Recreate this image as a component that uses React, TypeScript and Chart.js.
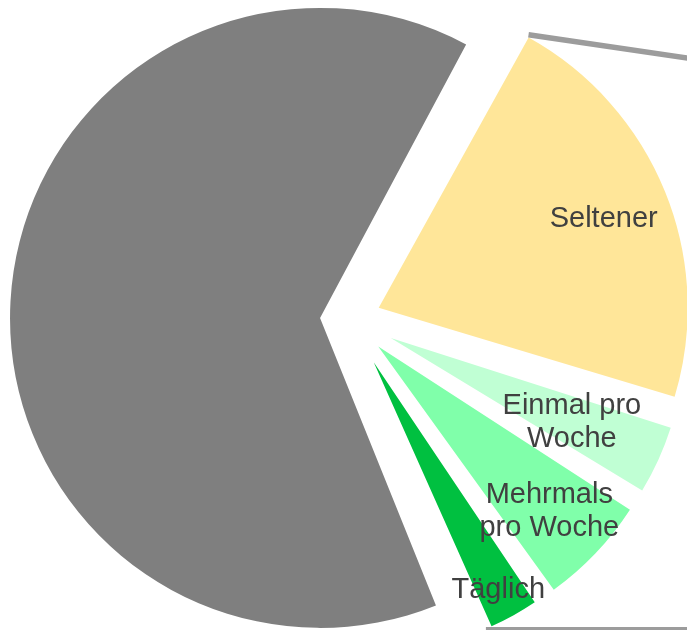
import React, { useEffect, useRef } from 'react';
import { Chart, registerables } from 'chart.js';

Chart.register(...registerables);

// ---- data ----
const CATEGORIES = ['Seltener', 'Einmal pro Woche', 'Mehrmals pro Woche', 'Täglich', 'Nie'];
const LABEL_LINES = [['Seltener'], ['Einmal pro', 'Woche'], ['Mehrmals', 'pro Woche'], ['Täglich'], []];
const VALUES = [21.6, 4.3, 6.3, 3.4, 64.4];

// ---- style ----
const COLORS = ['#FFE699', '#C0FFD4', '#80FFAA', '#00C040', '#7F7F7F'];
const START_ANGLE = 29; // degrees clockwise from 12 o'clock
const BASE_RADIUS = 310;
const SLICE_RADIUS = [309, 294, 300, 289, 310];
const EXPLODE = [31, 44.8, 39, 49, 30]; // px shift along slice middle
const LABEL_POS = [0.786, 0.677, 0.787, 0.89, 0]; // fraction of slice radius
const LABEL_FONT = '29px "Liberation Sans", Arial, sans-serif';
const LABEL_COLOR = '#404040';
const LINE_HEIGHT = 33;
const CONNECTOR_COLOR = '#9C9C9C';
const CONNECTOR_WIDTH = 5.5;
const TOP_SLOPE = 0.1465;
const BOTTOM_SLOPE = 0;

const slicePlugin = {
  id: 'sliceShape',
  afterDatasetUpdate(chart: any, args: any) {
    const meta = args.meta;
    meta.data.forEach((arc: any, i: number) => {
      const shift = EXPLODE[i];
      const fix = 1 - Math.sin(Math.min(Math.PI, arc.circumference || 0));
      arc.outerRadius = SLICE_RADIUS[i] - shift * fix;
    });
  },
  afterDatasetsDraw(chart: any) {
    const ctx: CanvasRenderingContext2D = chart.ctx;
    const arcs = chart.getDatasetMeta(0).data as any[];
    const vertex = (i: number) => {
      const a = arcs[i];
      const mid = (a.startAngle + a.endAngle) / 2;
      return { x: a.x + Math.cos(mid) * EXPLODE[i], y: a.y + Math.sin(mid) * EXPLODE[i], mid };
    };
    const W = chart.width;

    // connector lines
    ctx.save();
    ctx.strokeStyle = CONNECTOR_COLOR;
    ctx.lineWidth = CONNECTOR_WIDTH;
    const v0 = vertex(0);
    const p0 = {
      x: v0.x + Math.cos(arcs[0].startAngle) * SLICE_RADIUS[0],
      y: v0.y + Math.sin(arcs[0].startAngle) * SLICE_RADIUS[0] - CONNECTOR_WIDTH / 2,
    };
    ctx.beginPath();
    ctx.moveTo(p0.x, p0.y);
    ctx.lineTo(W + 5, p0.y + TOP_SLOPE * (W + 5 - p0.x));
    ctx.stroke();
    const li = 3;
    const v3 = vertex(li);
    const p3 = {
      x: v3.x + Math.cos(arcs[li].endAngle) * SLICE_RADIUS[li],
      y: v3.y + Math.sin(arcs[li].endAngle) * SLICE_RADIUS[li] + 1,
    };
    ctx.beginPath();
    ctx.moveTo(p3.x, p3.y);
    ctx.lineTo(W + 5, p3.y + BOTTOM_SLOPE * (W + 5 - p3.x));
    ctx.stroke();
    ctx.restore();

    // labels
    ctx.save();
    ctx.font = LABEL_FONT;
    ctx.fillStyle = LABEL_COLOR;
    ctx.textAlign = 'center';
    ctx.textBaseline = 'alphabetic';
    arcs.forEach((a: any, i: number) => {
      const lines = LABEL_LINES[i];
      if (!lines || !lines.length) return;
      const v = vertex(i);
      const d = LABEL_POS[i] * SLICE_RADIUS[i];
      const cx = v.x + Math.cos(v.mid) * d;
      const cy = v.y + Math.sin(v.mid) * d;
      const size = 29;
      const first = cy - ((lines.length - 1) * LINE_HEIGHT - 0.716 * size) / 2;
      lines.forEach((t, k) => ctx.fillText(t, cx, first + k * LINE_HEIGHT));
    });
    ctx.restore();
  },
};

export default function App() {
  const ref = useRef<HTMLCanvasElement>(null);
  useEffect(() => {
    const chart = new Chart(ref.current as HTMLCanvasElement, {
      type: 'pie',
      data: {
        labels: CATEGORIES,
        datasets: [
          {
            data: VALUES,
            backgroundColor: COLORS,
            borderWidth: 0,
            offset: EXPLODE.map((e) => e * 4),
            clip: false,
          } as any,
        ],
      },
      options: {
        responsive: false,
        animation: false,
        events: [],
        rotation: START_ANGLE,
        radius: BASE_RADIUS,
        layout: { padding: { left: 13, top: 9, right: 0, bottom: 0 } },
        plugins: { legend: { display: false }, tooltip: { enabled: false } },
      } as any,
      plugins: [slicePlugin],
    });
    return () => chart.destroy();
  }, []);
  return (
    <div style={{ position: 'fixed', left: 0, top: 0, width: 687, height: 630, background: '#fff' }}>
      <canvas ref={ref} width={687} height={630} style={{ display: 'block' }} />
    </div>
  );
}
